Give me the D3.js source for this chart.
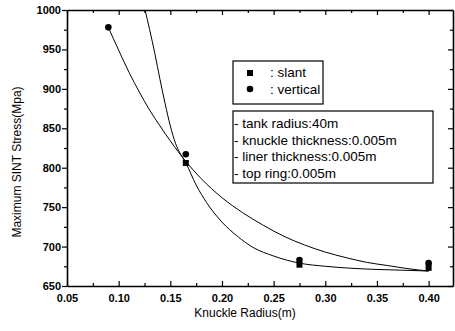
<!DOCTYPE html>
<html>
<head>
<meta charset="utf-8">
<script src="https://cdn.jsdelivr.net/npm/d3@7"></script>
<style>
  body { margin: 0; background: #fff; }
  text { font-family: "Liberation Sans", Arial, sans-serif; fill: #000; }
  .ticklab { font-weight: bold; font-size: 11px; }
</style>
</head>
<body>
<div id="chart"></div>
<script>
// data
var radius = [0.09, 0.165, 0.275, 0.40];
var slantStress = [null, 806, 677, 673];
var verticalStress = [978, 817, 683, 679];

// fitted curves
var verticalFitX = [0.09, 0.10, 0.11, 0.12, 0.13, 0.14, 0.15, 0.165, 0.18, 0.20, 0.22, 0.24, 0.26, 0.28, 0.30, 0.32, 0.34, 0.36, 0.38, 0.40];
var verticalFitY = [978, 949, 921, 896, 873, 853, 834, 808, 786, 762, 743, 727, 713, 702, 693, 686, 680, 676, 672, 669];
var slantFitX = [0.1256, 0.130, 0.135, 0.140, 0.145, 0.150, 0.155, 0.160, 0.165, 0.175, 0.185, 0.200, 0.215, 0.230, 0.250, 0.275, 0.300, 0.325, 0.350, 0.375, 0.40];
var slantFitY = [1000, 975, 945, 912, 881, 853, 831, 817, 806, 778, 756, 731, 713, 699, 688, 679, 675, 672.5, 671, 670, 669];

var xTicks = [0.05, 0.10, 0.15, 0.20, 0.25, 0.30, 0.35, 0.40];
var yTicks = [650, 700, 750, 800, 850, 900, 950, 1000];
var legendNames = [": slant", ": vertical"];
var noteLines = ["- tank radius:40m", "- knuckle thickness:0.005m", "- liner thickness:0.005m", "- top ring:0.005m"];

var margin = { top: 10, right: 2, bottom: 45, left: 67 },
    width = 455 - margin.left - margin.right,
    height = 331 - margin.top - margin.bottom;

var svg = d3.select("#chart")
    .append("svg")
    .attr("width", 455)
    .attr("height", 331)
    .append("g")
    .attr("transform", "translate(" + margin.left + "," + margin.top + ")");

var x = d3.scaleLinear().domain([0.05, 0.4236]).range([0, width]);
var y = d3.scaleLinear().domain([650, 1000]).range([height, 0]);

var xMinor = d3.range(0.075, 0.42, 0.05);
var yMinor = d3.range(675, 1000, 50);

// left axis, ticks out
svg.append("g")
    .call(d3.axisLeft(y).tickValues(yMinor).tickSize(3).tickFormat(""))
    .call(function (g) { g.select(".domain").remove(); });
svg.append("g")
    .call(d3.axisLeft(y).tickValues(yTicks).tickSize(5).tickPadding(1).tickSizeOuter(0)
      .tickFormat(d3.format("d")))
    .call(function (g) {
      g.attr("font-family", null).attr("font-size", null);
      g.selectAll("text").attr("class", "ticklab");
    });

// bottom axis, ticks in
svg.append("g")
    .attr("transform", "translate(0," + height + ")")
    .call(d3.axisBottom(x).tickValues(xMinor).tickSize(-3).tickFormat(""))
    .call(function (g) { g.select(".domain").remove(); });
svg.append("g")
    .attr("transform", "translate(0," + height + ")")
    .call(d3.axisBottom(x).tickValues(xTicks).tickSize(-5).tickPadding(8).tickSizeOuter(0)
      .tickFormat(d3.format(".2f")))
    .call(function (g) {
      g.attr("font-family", null).attr("font-size", null);
      g.selectAll("text").attr("class", "ticklab");
    });

// top and right axes, ticks in, no labels
svg.append("g")
    .call(d3.axisTop(x).tickValues(xTicks).tickSize(-5).tickFormat("").tickSizeOuter(0));
svg.append("g")
    .call(d3.axisTop(x).tickValues(xMinor).tickSize(-3).tickFormat(""))
    .call(function (g) { g.select(".domain").remove(); });
svg.append("g")
    .attr("transform", "translate(" + width + ",0)")
    .call(d3.axisRight(y).tickValues(yTicks).tickSize(-5).tickFormat("").tickSizeOuter(0));
svg.append("g")
    .attr("transform", "translate(" + width + ",0)")
    .call(d3.axisRight(y).tickValues(yMinor).tickSize(-3).tickFormat(""))
    .call(function (g) { g.select(".domain").remove(); });

svg.selectAll(".domain").attr("stroke-width", 1.6);
svg.selectAll(".tick line").attr("stroke-width", 1.2);

// axis titles
svg.append("text")
    .attr("transform", "translate(" + (21 - margin.left) + "," + (height / 2 + 14) + ")rotate(-90)")
    .attr("text-anchor", "middle")
    .style("font-size", "12px")
    .text("Maximum SINT Stress(Mpa)");
svg.append("text")
    .attr("x", 245 - margin.left)
    .attr("y", height + 31)
    .attr("text-anchor", "middle")
    .style("font-size", "12px")
    .text("Knuckle Radius(m)");

// fit curves
svg.append("clipPath").attr("id", "plotclip")
    .append("rect").attr("width", width).attr("height", height);

var line = d3.line()
    .x(function (d) { return x(d[0]); })
    .y(function (d) { return y(d[1]); })
    .curve(d3.curveMonotoneX);

svg.append("path")
    .datum(d3.zip(verticalFitX, verticalFitY))
    .attr("clip-path", "url(#plotclip)")
    .attr("d", line)
    .attr("fill", "none")
    .attr("stroke", "#000")
    .attr("stroke-width", 1);
svg.append("path")
    .datum(d3.zip(slantFitX, slantFitY))
    .attr("clip-path", "url(#plotclip)")
    .attr("d", line)
    .attr("fill", "none")
    .attr("stroke", "#000")
    .attr("stroke-width", 1);

// markers
var slantPts = radius.map(function (r, i) { return { r: r, v: slantStress[i] }; })
    .filter(function (d) { return d.v != null; });
var vertPts = radius.map(function (r, i) { return { r: r, v: verticalStress[i] }; });

svg.selectAll("rect.slant")
    .data(slantPts)
    .enter()
    .append("rect")
    .attr("class", "slant")
    .attr("x", function (d) { return x(d.r) - 3; })
    .attr("y", function (d) { return y(d.v) - 3; })
    .attr("width", 6)
    .attr("height", 6)
    .attr("fill", "#000");

svg.selectAll("circle.vert")
    .data(vertPts)
    .enter()
    .append("circle")
    .attr("class", "vert")
    .attr("cx", function (d) { return x(d.r); })
    .attr("cy", function (d) { return y(d.v); })
    .attr("r", 3.3)
    .attr("fill", "#000");

// legend box
var leg = svg.append("g").attr("transform", "translate(" + (233 - margin.left) + "," + (61 - margin.top) + ")");
leg.append("rect")
    .attr("width", 90).attr("height", 43)
    .attr("fill", "#fff").attr("stroke", "#000").attr("stroke-width", 1.2);
leg.append("rect").attr("x", 14).attr("y", 9).attr("width", 6).attr("height", 6).attr("fill", "#000");
leg.append("circle").attr("cx", 17).attr("cy", 28).attr("r", 3.3).attr("fill", "#000");
leg.selectAll("text")
    .data(legendNames)
    .enter()
    .append("text")
    .attr("x", 37)
    .attr("y", function (d, i) { return 16 + i * 16.5; })
    .style("font-size", "13.5px")
    .text(function (d) { return d; });

// notes box
var notes = svg.append("g").attr("transform", "translate(" + (233 - margin.left) + "," + (111 - margin.top) + ")");
notes.append("rect")
    .attr("width", 200).attr("height", 72)
    .attr("fill", "#fff").attr("stroke", "#000").attr("stroke-width", 1.2);
notes.selectAll("text")
    .data(noteLines)
    .enter()
    .append("text")
    .attr("x", 1)
    .attr("y", function (d, i) { return 17 + i * 16.7; })
    .style("font-size", "13.5px")
    .text(function (d) { return d; });
</script>
</body>
</html>
